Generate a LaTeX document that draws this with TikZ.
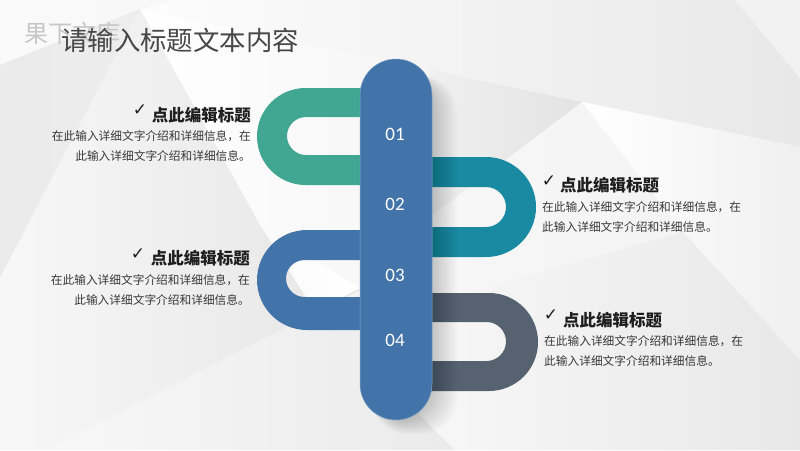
\documentclass[tikz,border=0pt]{standalone}
\usepackage{fontspec}
\setmainfont{Noto Sans CJK SC}
\newfontfamily\numfont{Carlito}
\newfontfamily\tickfont{DejaVu Sans}
\usetikzlibrary{positioning}
\definecolor{stemblue}{HTML}{4274A9}
\definecolor{loopgreen}{HTML}{42A792}
\definecolor{loopteal}{HTML}{1A89A2}
\definecolor{loopslate}{HTML}{56626F}
\tikzset{
  heading/.style={font=\fontsize{16.5}{18}\selectfont\bfseries,text=black!88,inner sep=0pt},
  body/.style={font=\fontsize{11.7}{20}\selectfont,text=black!78,inner sep=0pt},
  tick/.style={font=\fontsize{17}{18}\tickfont,text=black!88,inner sep=0pt},
  num/.style={font=\fontsize{19}{20}\numfont,text=white,inner sep=0pt},
  pill/.style={fill=stemblue,draw=stemblue!65!white,line width=.5pt,rounded corners=36pt,
    minimum width=72pt,minimum height=361pt,inner sep=0pt},
}
\begin{document}
\begin{tikzpicture}[x=1pt,y=-1pt]
\useasboundingbox (0,0) rectangle (800,450);
\clip (0,0) rectangle (800,450);
% background facets
\fill[black!4] (0,0) rectangle (800,450);
\shade[left color=black!2,right color=black!3] (0,0) -- (175,0) -- (140,9) -- (0,65) -- cycle;
\shade[left color=black!1,right color=black!9] (140,9) -- (175,0) -- (735,0) -- (800,78) -- (800,147) -- cycle;
\fill[black!5] (735,0) -- (800,0) -- (800,78) -- cycle;
\shade[left color=black!8,right color=black!7] (0,65) -- (140,9) -- (0,278) -- cycle;
\shade[left color=white,right color=black!6] (140,9) -- (582,102) -- (430,225) -- (360,290) -- (260,225) -- cycle;
\shade[left color=black!3,right color=black!10] (140,9) -- (260,225) -- (360,290) -- (287,327) -- (45,450) -- (0,450) -- (0,278) -- cycle;
\shade[left color=black!2,right color=white] (260,225) -- (360,288) -- (287,327) -- (345,358) -- cycle;
\shade[left color=black!3,right color=black!8] (45,450) -- (287,327) -- (360,295) -- (420,415) -- (455,450) -- cycle;
\shade[left color=black!5,right color=black!11] (430,70) -- (582,102) -- (400,240) -- cycle;
\shade[left color=black!3,right color=black!5] (582,102) -- (683,232) -- (800,360) -- (800,450) -- (455,450) -- (420,415) -- (400,240) -- cycle;
\shade[left color=white,right color=black!6] (582,102) -- (800,147) -- (800,360) -- (683,232) -- cycle;
\shade[left color=black!3,right color=black!9] (683,232) -- (800,360) -- (800,450) -- (455,450) -- (420,415) -- (440,300) -- cycle;
% loops
\fill[loopgreen] (365,88) [rounded corners=48.5pt] -- (257,88) -- (257,185) [sharp corners] -- (365,185) -- (365,155)
  [rounded corners=19pt] -- (287,155) -- (287,117) [sharp corners] -- (365,117) -- cycle;
\fill[loopteal] (425,157) [rounded corners=50pt] -- (536,157) -- (536,257) [sharp corners] -- (425,257) -- (425,227)
  [rounded corners=20pt] -- (506,227) -- (506,187) [sharp corners] -- (425,187) -- cycle;
\fill[stemblue] (365,230) [rounded corners=50pt] -- (257,230) -- (257,330) [sharp corners] -- (365,330) -- (365,297)
  [rounded corners=18.5pt] -- (286,297) -- (286,260) [sharp corners] -- (365,260) -- cycle;
\fill[loopslate] (425,293) [rounded corners=49pt] -- (538,293) -- (538,391) [sharp corners] -- (425,391) -- (425,361)
  [rounded corners=19.5pt] -- (506,361) -- (506,322) [sharp corners] -- (425,322) -- cycle;
% shadow of the stem
\foreach \s in {-4,-2,...,24}
  \fill[black,opacity=.016,rounded corners=36pt] (372,76) rectangle (433+\s,420+\s*.6);
\node[pill] (stem) at (396,239.5) {};
\node[num] (n1) at (395,134) {01};
\node[num] (n2) at (395,204) {02};
\node[num] (n3) at (395,275) {03};
\node[num] (n4) at (395,340) {04};
% title
\node[font=\fontsize{24}{26}\selectfont,text=black!22,inner sep=0pt,anchor=west] (mark) at (24,33) {果下文库};
\node[font=\fontsize{26.4}{28}\selectfont,text=black!72,inner sep=0pt,anchor=west] (title) at (61,40) {请输入标题文本内容};
% left texts
\node[heading,anchor=east] (h1) at (251,115) {点此编辑标题};
\node[tick] (t1) at (140,110) {✓};
\node[body,anchor=north east,align=right] (b1) at (251,130.5) {在此输入详细文字介绍和详细信息，在\\此输入详细文字介绍和详细信息。};
\node[heading,anchor=east] (h3) at (250,258) {点此编辑标题};
\node[tick] (t3) at (138,254) {✓};
\node[body,anchor=north east,align=right] (b3) at (250,274.5) {在此输入详细文字介绍和详细信息，在\\此输入详细文字介绍和详细信息。};
% right texts
\node[heading,anchor=west] (h2) at (560,185) {点此编辑标题};
\node[tick] (t2) at (549,181) {✓};
\node[body,anchor=north west,align=left] (b2) at (542,201.5) {在此输入详细文字介绍和详细信息，在\\此输入详细文字介绍和详细信息。};
\node[heading,anchor=west] (h4) at (563,320) {点此编辑标题};
\node[tick] (t4) at (551,315) {✓};
\node[body,anchor=north west,align=left] (b4) at (544,335.5) {在此输入详细文字介绍和详细信息，在\\此输入详细文字介绍和详细信息。};
\end{tikzpicture}
\end{document}
